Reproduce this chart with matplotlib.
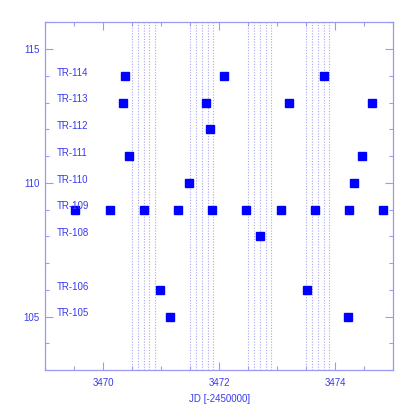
import matplotlib
matplotlib.use("Agg")
import matplotlib.pyplot as plt
from matplotlib.ticker import MultipleLocator

# Observation epochs per target (JD - 2450000)
targets = ["TR-114", "TR-113", "TR-112", "TR-111", "TR-110", "TR-109", "TR-108", "TR-106", "TR-105"]
target_y = [114, 113, 112, 111, 110, 109, 108, 106, 105]
epochs = [
    [3470.38, 3472.09, 3473.80],
    [3470.34, 3471.78, 3473.21, 3474.64],
    [3471.84],
    [3470.44, 3474.46],
    [3471.48, 3474.33],
    [3469.52, 3470.12, 3470.70, 3471.29, 3471.88, 3472.47, 3473.06, 3473.65, 3474.24, 3474.83],
    [3472.71],
    [3470.98, 3473.52],
    [3471.16, 3474.22],
]

# dotted time markers
night_starts = [3470, 3471, 3472, 3473]
night_offsets = [0.5, 0.6, 0.7, 0.8, 0.9]

axis_col = "#9a9af5"
text_col = "#3a3aee"
plt.rcParams["font.family"] = ["Liberation Sans", "DejaVu Sans"]

fig = plt.figure(figsize=(4.15, 4.15), dpi=100)
ax = fig.add_axes([0.1084, 0.1084, 0.8394, 0.8379])

for n in night_starts:
    for off in night_offsets:
        ax.axvline(n + off, color="#a8a8f0", lw=0.8, ls=(0, (1, 1.5)), zorder=1)

for y, xs in zip(target_y, epochs):
    ax.plot(xs, [y] * len(xs), "s", color="#0000ff", ms=6.3, mec="#0000ff", zorder=3)

for name, y in zip(targets, target_y):
    ax.text(3469.21, y + 0.12, name, color=text_col, fontsize=7, va="center", ha="left", zorder=4)

ax.set_xlim(3469, 3475)
ax.set_ylim(103, 116)
ax.xaxis.set_major_locator(MultipleLocator(2))
ax.xaxis.set_minor_locator(MultipleLocator(0.5))
ax.yaxis.set_major_locator(MultipleLocator(5))
ax.yaxis.set_minor_locator(MultipleLocator(1))
ax.tick_params(which="both", direction="in", top=True, right=True, colors=axis_col,
               labelcolor=text_col, labelsize=7, width=0.8)
ax.tick_params(which="major", length=6)
ax.tick_params(axis="y", which="major", pad=4)
ax.tick_params(axis="x", which="major", pad=6)
ax.tick_params(which="minor", length=3)
for s in ax.spines.values():
    s.set_color(axis_col)
    s.set_linewidth(0.9)

ax.set_xlabel("JD [-2450000]", color=text_col, fontsize=7, labelpad=4)

fig.savefig("out.png", dpi=100)
